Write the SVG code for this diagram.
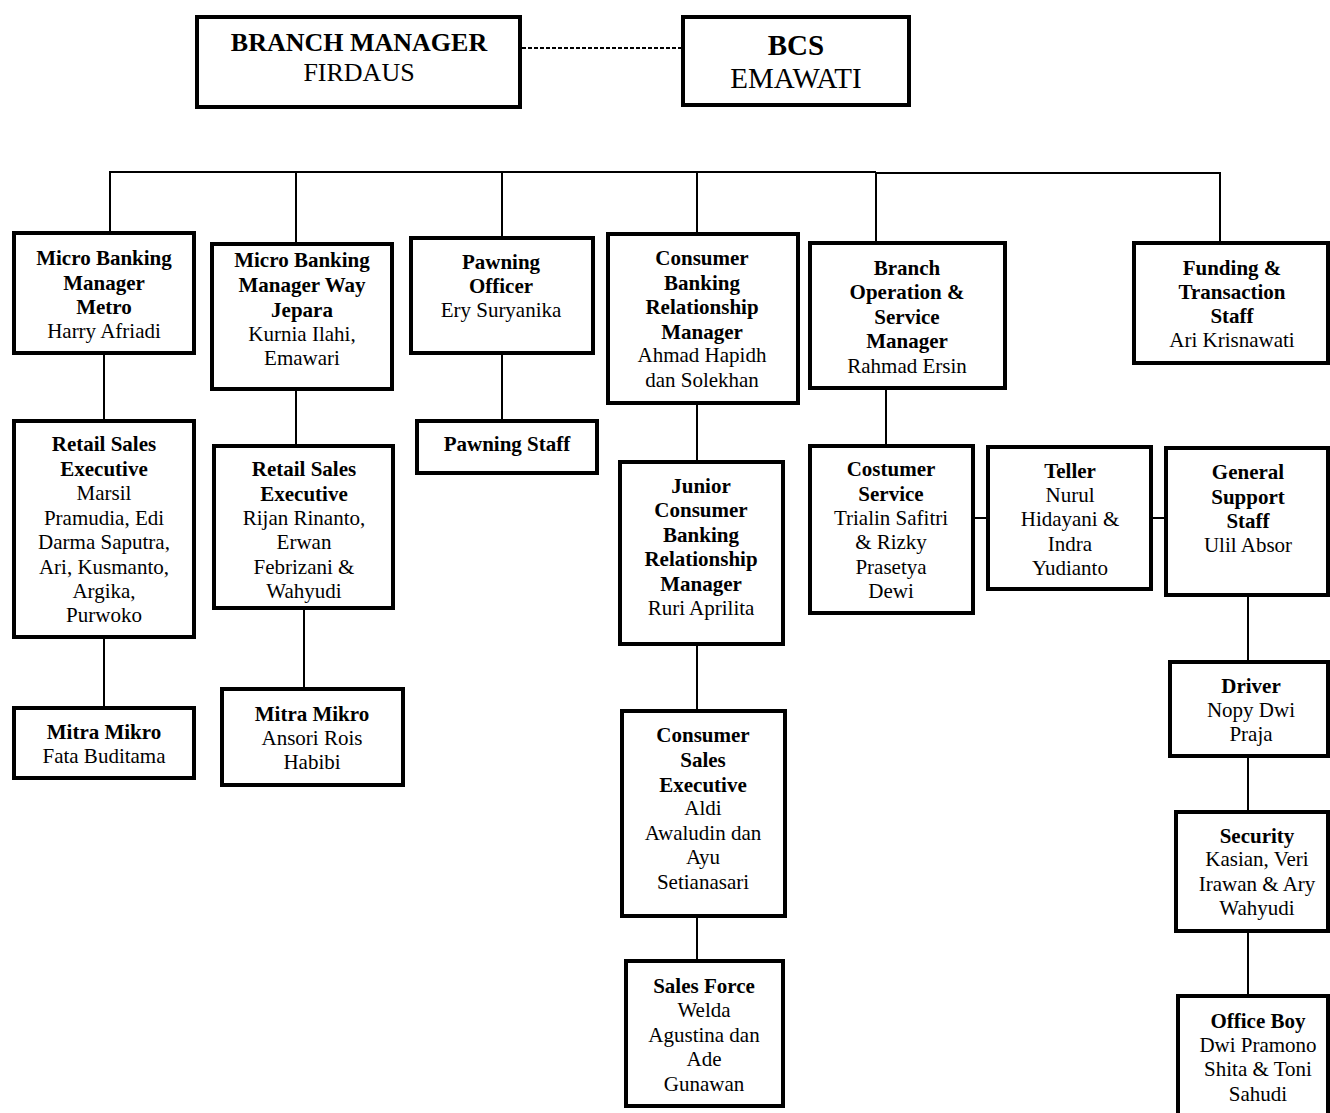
<svg xmlns="http://www.w3.org/2000/svg" width="1330" height="1113" viewBox="0 0 1330 1113">
<style>
.box{fill:#fff;stroke:#000;stroke-width:4}
.ln{stroke:#000;stroke-width:2;fill:none}
text{font-family:"Liberation Serif","Times New Roman",serif;font-size:21px;fill:#000;text-anchor:middle}
.b{font-weight:bold}
</style>
<rect width="1330" height="1113" fill="#fff"/>
<g id="connectors">
<line class="ln" x1="522" y1="48" x2="681" y2="48" stroke-dasharray="4,2"/>
<polyline class="ln" points="110,232 110,172 876,172"/>
<polyline class="ln" points="876,242 876,173 1220,173 1220,242"/>
<line class="ln" x1="296" y1="172" x2="296" y2="243"/>
<line class="ln" x1="502" y1="172" x2="502" y2="237"/>
<line class="ln" x1="697" y1="172" x2="697" y2="233"/>
<line class="ln" x1="104" y1="354" x2="104" y2="420"/>
<line class="ln" x1="104" y1="638" x2="104" y2="707"/>
<line class="ln" x1="296" y1="390" x2="296" y2="445"/>
<line class="ln" x1="304" y1="609" x2="304" y2="688"/>
<line class="ln" x1="502" y1="354" x2="502" y2="420"/>
<line class="ln" x1="697" y1="404" x2="697" y2="461"/>
<line class="ln" x1="697" y1="645" x2="697" y2="710"/>
<line class="ln" x1="697" y1="917" x2="697" y2="960"/>
<line class="ln" x1="886" y1="389" x2="886" y2="445"/>
<line class="ln" x1="974" y1="518" x2="987" y2="518"/>
<line class="ln" x1="1152" y1="518" x2="1165" y2="518"/>
<line class="ln" x1="1248" y1="596" x2="1248" y2="661"/>
<line class="ln" x1="1248" y1="757" x2="1248" y2="811"/>
<line class="ln" x1="1248" y1="932" x2="1248" y2="995"/>
</g>
<g id="branch-manager">
<rect class="box" x="197" y="17" width="323" height="90"/>
<text x="359" y="51" class="b" style="font-size:26px">BRANCH MANAGER</text>
<text x="359" y="81" style="font-size:26px">FIRDAUS</text>
</g>
<g id="bcs">
<rect class="box" x="683" y="17" width="226" height="88"/>
<text x="796" y="55" class="b" style="font-size:29px">BCS</text>
<text x="796" y="88" style="font-size:29px">EMAWATI</text>
</g>
<g id="mbm-metro">
<rect class="box" x="14" y="233" width="180" height="120"/>
<text x="104"><tspan x="104" y="265" class="b">Micro Banking</tspan><tspan x="104" y="290" class="b">Manager</tspan><tspan x="104" y="314" class="b">Metro</tspan><tspan x="104" y="338">Harry Afriadi</tspan></text>
</g>
<g id="mbm-jepara">
<rect class="box" x="212" y="244" width="180" height="145"/>
<text x="302"><tspan x="302" y="267" class="b">Micro Banking</tspan><tspan x="302" y="292" class="b">Manager Way</tspan><tspan x="302" y="317" class="b">Jepara</tspan><tspan x="302" y="341">Kurnia Ilahi,</tspan><tspan x="302" y="365">Emawari</tspan></text>
</g>
<g id="pawning-officer">
<rect class="box" x="411" y="238" width="182" height="115"/>
<text x="501"><tspan x="501" y="269" class="b">Pawning</tspan><tspan x="501" y="293" class="b">Officer</tspan><tspan x="501" y="317">Ery Suryanika</tspan></text>
</g>
<g id="cbrm">
<rect class="box" x="608" y="234" width="190" height="169"/>
<text x="702"><tspan x="702" y="265" class="b">Consumer</tspan><tspan x="702" y="290" class="b">Banking</tspan><tspan x="702" y="314" class="b">Relationship</tspan><tspan x="702" y="339" class="b">Manager</tspan><tspan x="702" y="362">Ahmad Hapidh</tspan><tspan x="702" y="387">dan Solekhan</tspan></text>
</g>
<g id="bosm">
<rect class="box" x="810" y="243" width="195" height="145"/>
<text x="907"><tspan x="907" y="275" class="b">Branch</tspan><tspan x="907" y="299" class="b">Operation &amp;</tspan><tspan x="907" y="324" class="b">Service</tspan><tspan x="907" y="348" class="b">Manager</tspan><tspan x="907" y="373">Rahmad Ersin</tspan></text>
</g>
<g id="funding">
<rect class="box" x="1134" y="243" width="194" height="120"/>
<text x="1232"><tspan x="1232" y="275" class="b">Funding &amp;</tspan><tspan x="1232" y="299" class="b">Transaction</tspan><tspan x="1232" y="323" class="b">Staff</tspan><tspan x="1232" y="347">Ari Krisnawati</tspan></text>
</g>
<g id="rse-1">
<rect class="box" x="14" y="421" width="180" height="216"/>
<text x="104"><tspan x="104" y="451" class="b">Retail Sales</tspan><tspan x="104" y="476" class="b">Executive</tspan><tspan x="104" y="500">Marsil</tspan><tspan x="104" y="525">Pramudia, Edi</tspan><tspan x="104" y="549">Darma Saputra,</tspan><tspan x="104" y="574">Ari, Kusmanto,</tspan><tspan x="104" y="598">Argika,</tspan><tspan x="104" y="622">Purwoko</tspan></text>
</g>
<g id="rse-2">
<rect class="box" x="214" y="446" width="179" height="162"/>
<text x="304"><tspan x="304" y="476" class="b">Retail Sales</tspan><tspan x="304" y="501" class="b">Executive</tspan><tspan x="304" y="525">Rijan Rinanto,</tspan><tspan x="304" y="549">Erwan</tspan><tspan x="304" y="574">Febrizani &amp;</tspan><tspan x="304" y="598">Wahyudi</tspan></text>
</g>
<g id="pawning-staff">
<rect class="box" x="417" y="421" width="180" height="52"/>
<text x="507" y="451" class="b">Pawning Staff</text>
</g>
<g id="jcbrm">
<rect class="box" x="620" y="462" width="163" height="182"/>
<text x="701"><tspan x="701" y="493" class="b">Junior</tspan><tspan x="701" y="517" class="b">Consumer</tspan><tspan x="701" y="542" class="b">Banking</tspan><tspan x="701" y="566" class="b">Relationship</tspan><tspan x="701" y="591" class="b">Manager</tspan><tspan x="701" y="615">Ruri Aprilita</tspan></text>
</g>
<g id="costumer-service">
<rect class="box" x="810" y="446" width="163" height="167"/>
<text x="891"><tspan x="891" y="476" class="b">Costumer</tspan><tspan x="891" y="501" class="b">Service</tspan><tspan x="891" y="525">Trialin Safitri</tspan><tspan x="891" y="549">&amp; Rizky</tspan><tspan x="891" y="574">Prasetya</tspan><tspan x="891" y="598">Dewi</tspan></text>
</g>
<g id="teller">
<rect class="box" x="988" y="447" width="163" height="142"/>
<text x="1070"><tspan x="1070" y="478" class="b">Teller</tspan><tspan x="1070" y="502">Nurul</tspan><tspan x="1070" y="526">Hidayani &amp;</tspan><tspan x="1070" y="551">Indra</tspan><tspan x="1070" y="575">Yudianto</tspan></text>
</g>
<g id="general-support">
<rect class="box" x="1166" y="448" width="162" height="147"/>
<text x="1248"><tspan x="1248" y="479" class="b">General</tspan><tspan x="1248" y="504" class="b">Support</tspan><tspan x="1248" y="528" class="b">Staff</tspan><tspan x="1248" y="552">Ulil Absor</tspan></text>
</g>
<g id="mitra-mikro-1">
<rect class="box" x="14" y="708" width="180" height="70"/>
<text x="104"><tspan x="104" y="739" class="b">Mitra Mikro</tspan><tspan x="104" y="763">Fata Buditama</tspan></text>
</g>
<g id="mitra-mikro-2">
<rect class="box" x="222" y="689" width="181" height="96"/>
<text x="312"><tspan x="312" y="721" class="b">Mitra Mikro</tspan><tspan x="312" y="745">Ansori Rois</tspan><tspan x="312" y="769">Habibi</tspan></text>
</g>
<g id="cse">
<rect class="box" x="622" y="711" width="163" height="205"/>
<text x="703"><tspan x="703" y="742" class="b">Consumer</tspan><tspan x="703" y="767" class="b">Sales</tspan><tspan x="703" y="792" class="b">Executive</tspan><tspan x="703" y="815">Aldi</tspan><tspan x="703" y="840">Awaludin dan</tspan><tspan x="703" y="864">Ayu</tspan><tspan x="703" y="889">Setianasari</tspan></text>
</g>
<g id="sales-force">
<rect class="box" x="626" y="961" width="157" height="145"/>
<text x="704"><tspan x="704" y="993" class="b">Sales Force</tspan><tspan x="704" y="1017">Welda</tspan><tspan x="704" y="1042">Agustina dan</tspan><tspan x="704" y="1066">Ade</tspan><tspan x="704" y="1091">Gunawan</tspan></text>
</g>
<g id="driver">
<rect class="box" x="1170" y="662" width="158" height="94"/>
<text x="1251"><tspan x="1251" y="693" class="b">Driver</tspan><tspan x="1251" y="717">Nopy Dwi</tspan><tspan x="1251" y="741">Praja</tspan></text>
</g>
<g id="security">
<rect class="box" x="1176" y="812" width="152" height="119"/>
<text x="1257"><tspan x="1257" y="843" class="b">Security</tspan><tspan x="1257" y="866">Kasian, Veri</tspan><tspan x="1257" y="891">Irawan &amp; Ary</tspan><tspan x="1257" y="915">Wahyudi</tspan></text>
</g>
<g id="office-boy">
<rect class="box" x="1178" y="996" width="150" height="120"/>
<text x="1258"><tspan x="1258" y="1028" class="b">Office Boy</tspan><tspan x="1258" y="1052">Dwi Pramono</tspan><tspan x="1258" y="1076">Shita &amp; Toni</tspan><tspan x="1258" y="1101">Sahudi</tspan></text>
</g>
</svg>
